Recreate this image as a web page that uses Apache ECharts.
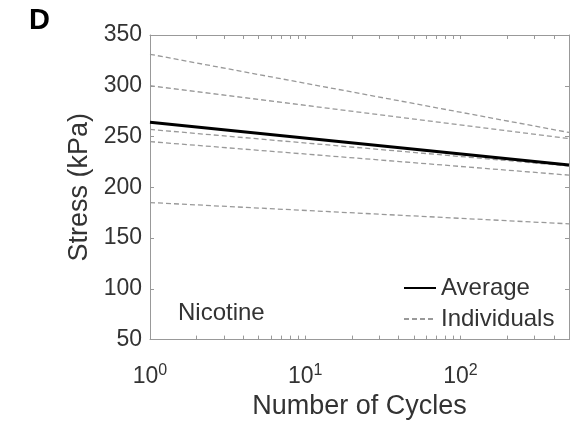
<!DOCTYPE html>
<html>
<head>
<meta charset="utf-8">
<script src="https://cdn.jsdelivr.net/npm/echarts@6/dist/echarts.min.js"></script>
<style>
  html, body { margin: 0; padding: 0; background: #fff; }
  #chart { width: 583px; height: 425px; }
</style>
</head>
<body>
<div id="chart"></div>
<script>
// Fitted stress-relaxation curves (power law, straight on a log x axis)
const cycles = [1, 500];
const averageStress = [264, 222];
const individual1 = [331, 254];
const individual2 = [300, 248];
const individual3 = [257, 221];
const individual4 = [245, 212];
const individual5 = [185, 164];
const individualSets = [individual1, individual2, individual3, individual4, individual5];

// Axis ranges and ticks
const xMin = 1;
const xMax = 500;
const xTickValues = [1, 2, 3, 4, 5, 6, 7, 8, 9, 10, 20, 30, 40, 50, 60, 70, 80, 90, 100, 200, 300, 400, 500];
const yMin = 50;
const yMax = 350;
const yStep = 50;

const panelLetter = 'D';
const groupLabel = 'Nicotine';

const fontFamily = 'Liberation Sans, Arial, sans-serif';
const textColor = '#333';
const frameColor = '#999';

function pairs(values) {
  return cycles.map((c, i) => [c, values[i]]);
}

// Powers of ten as 10 with a raised exponent; other tick values stay unlabelled
function powerLabel(v) {
  const e = Math.round(Math.log10(v));
  if (Math.abs(Math.pow(10, e) - v) > 1e-6) return '';
  return '{base|10}{sup|' + e + '}';
}

const tickStyle = { show: true, inside: true, length: 4, lineStyle: { color: frameColor, width: 1 } };
const lineStyleAxis = { show: true, lineStyle: { color: frameColor, width: 1 } };

const series = [];
individualSets.forEach((vals) => {
  series.push({
    name: 'Individuals',
    type: 'line',
    xAxisIndex: 0,
    yAxisIndex: 0,
    data: pairs(vals),
    symbol: 'none',
    silent: true,
    itemStyle: { color: '#999' },
    lineStyle: { color: '#999', width: 1.3, type: [5, 3] },
    z: 2
  });
});
series.push({
  name: 'Average',
  type: 'line',
  xAxisIndex: 0,
  yAxisIndex: 0,
  data: pairs(averageStress),
  symbol: 'none',
  silent: true,
  itemStyle: { color: '#000' },
  lineStyle: { color: '#000', width: 3 },
  z: 3
});

const chart = echarts.init(document.getElementById('chart'), null, { renderer: 'canvas' });
chart.setOption({
  animation: false,
  backgroundColor: '#fff',
  textStyle: { fontFamily: fontFamily },
  grid: { left: 150, right: 14, top: 35, bottom: 83 },
  legend: {
    data: ['Average', 'Individuals'],
    orient: 'vertical',
    left: 403,
    top: 276,
    padding: 0,
    itemWidth: 32,
    itemHeight: 14,
    itemGap: 7,
    itemStyle: { opacity: 0 },
    textStyle: { fontSize: 24, color: textColor, fontFamily: fontFamily },
    selectedMode: false
  },
  xAxis: [
    {
      type: 'log',
      logBase: 10,
      min: xMin,
      max: xMax,
      position: 'bottom',
      name: 'Number of Cycles',
      nameLocation: 'middle',
      nameGap: 53,
      nameTextStyle: { fontSize: 27, color: textColor },
      axisLine: lineStyleAxis,
      axisTick: Object.assign({ customValues: xTickValues }, tickStyle),
      splitLine: { show: false },
      minorTick: { show: false },
      axisLabel: {
        show: true,
        margin: 22,
        color: textColor,
        fontSize: 23,
        formatter: powerLabel,
        rich: {
          base: { fontSize: 23, lineHeight: 26, padding: [4, 0, 0, 0], color: textColor },
          sup: { fontSize: 16, lineHeight: 16, padding: [0, 0, 9, 0], color: textColor }
        }
      }
    },
    {
      type: 'log',
      logBase: 10,
      min: xMin,
      max: xMax,
      position: 'top',
      axisLine: lineStyleAxis,
      axisTick: Object.assign({ customValues: xTickValues }, tickStyle),
      splitLine: { show: false },
      axisLabel: { show: false }
    }
  ],
  yAxis: [
    {
      type: 'value',
      min: yMin,
      max: yMax,
      interval: yStep,
      position: 'left',
      name: 'Stress (kPa)',
      nameLocation: 'middle',
      nameGap: 46,
      nameTextStyle: { fontSize: 27, color: textColor },
      axisLine: lineStyleAxis,
      axisTick: tickStyle,
      splitLine: { show: false },
      axisLabel: { show: true, margin: 8, color: textColor, fontSize: 23 }
    },
    {
      type: 'value',
      min: yMin,
      max: yMax,
      interval: yStep,
      position: 'right',
      axisLine: lineStyleAxis,
      axisTick: tickStyle,
      splitLine: { show: false },
      axisLabel: { show: false }
    }
  ],
  graphic: [
    {
      type: 'text',
      left: 29,
      top: 6,
      style: { text: panelLetter, fontSize: 29, fontWeight: 'bold', fill: '#000', fontFamily: fontFamily }
    },
    {
      type: 'text',
      left: 178,
      top: 301,
      style: { text: groupLabel, fontSize: 24, fill: textColor, fontFamily: fontFamily }
    }
  ],
  series: series
});
</script>
</body>
</html>
